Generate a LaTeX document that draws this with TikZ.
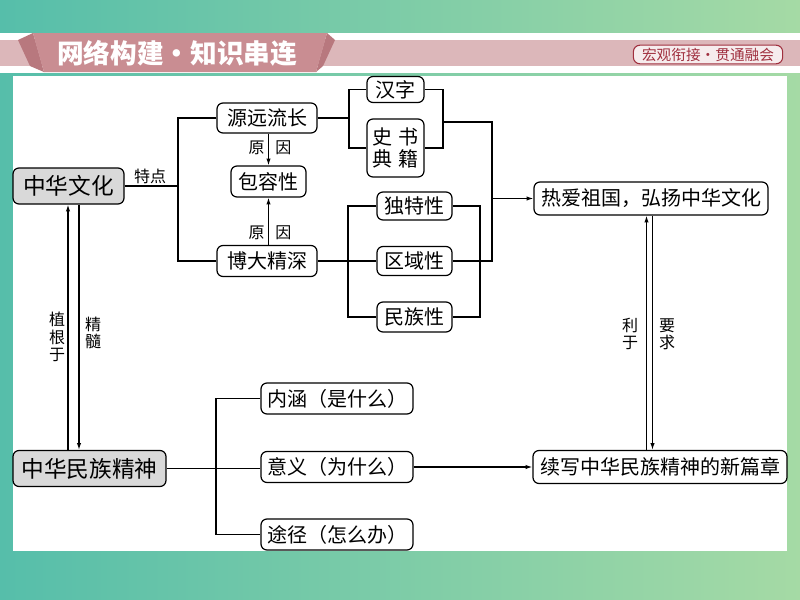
\documentclass[tikz,border=0pt]{standalone}
\usepackage{fontspec}
\setmainfont{Noto Sans CJK SC}
\usetikzlibrary{arrows.meta,calc}
\definecolor{gl}{RGB}{86,190,170}
\definecolor{gr}{RGB}{165,218,165}
\definecolor{stripe}{RGB}{220,183,186}
\definecolor{rose}{RGB}{201,141,146}
\definecolor{rosed}{RGB}{184,120,126}
\definecolor{badgetxt}{RGB}{160,48,63}
\definecolor{badgefill}{RGB}{246,236,237}
\definecolor{graybox}{RGB}{217,217,217}
\tikzset{
  box/.style={draw, rounded corners=4.5pt, line width=0.9pt, inner sep=0pt, align=center, font=\fontsize{15}{17}\selectfont},
  bigbox/.style={box, fill=graybox, font=\fontsize{17}{19}\selectfont},
  lbl/.style={inner sep=0pt, align=center, font=\fontsize{12}{13}\selectfont},
  con/.style={line width=0.9pt},
  arr/.style={con, -{Latex[length=5pt,width=3.2pt]}}
}
\begin{document}
\begin{tikzpicture}[x=0.75pt,y=-0.75pt]
\useasboundingbox (0,0) rectangle (800,600);
% background
\shade[left color=gl, right color=gr] (0,0) rectangle (800,600);
\fill[white] (0,33) rectangle (800,73);
\fill[stripe] (0,40) rectangle (800,66);
\fill[white] (13,76) rectangle (787,551);
% banner
\fill[rosed] (18,40) -- (33,33) -- (44,72) -- (30,66) -- cycle;
\fill[rosed] (327,33) -- (335,40) -- (323,66) -- (316,72) -- cycle;
\fill[rose] (33,33) -- (327,33) -- (316,72) -- (44,72) -- cycle;
\node[text=white, font=\fontsize{20}{20}\selectfont\bfseries, inner sep=0pt] (ban) at (177,53) {网络构建·知识串连};
\node[draw=badgetxt, fill=badgefill, rounded corners=5pt, line width=0.8pt, minimum width=112pt, minimum height=14pt, inner sep=0pt, text=badgetxt, font=\fontsize{11}{11}\selectfont] (badge) at (708,54.5) {宏观衔接·贯通融会};
% nodes
\node[bigbox, minimum width=83.25pt, minimum height=27pt] (zhwh) at (68.5,186) {中华文化};
\node[box, minimum width=75pt, minimum height=22.5pt] (yylc) at (267,118) {源远流长};
\node[box, minimum width=56.25pt, minimum height=23.25pt] (brx) at (268.5,181.5) {包容性};
\node[box, minimum width=75pt, minimum height=23.25pt] (bdjs) at (267,261) {博大精深};
\node[box, minimum width=42.75pt, minimum height=19.5pt] (hz) at (395.5,89.5) {汉字};
\node[box, minimum width=42.75pt, minimum height=43.5pt] (ssdj) at (395.5,148) {史\hspace{4pt}书\\典\hspace{4pt}籍};
\node[box, minimum width=56.25pt, minimum height=21pt] (dtx) at (414.5,206) {独特性};
\node[box, minimum width=56.25pt, minimum height=21.75pt] (qyx) at (414.5,261) {区域性};
\node[box, minimum width=56.25pt, minimum height=22.5pt] (mzx) at (414.5,317) {民族性};
\node[box, minimum width=175.5pt, minimum height=24.75pt] (rags) at (651,198.5) {热爱祖国，弘扬中华文化};
\node[box, minimum width=190.5pt, minimum height=24.75pt] (xx) at (660,467) {续写中华民族精神的新篇章};
\node[bigbox, minimum width=114.75pt, minimum height=27pt] (zhmz) at (89.5,468.5) {中华民族精神};
\node[box, minimum width=114pt, minimum height=23.25pt] (nh) at (337,398.5) {内涵（是什么）};
\node[box, minimum width=114pt, minimum height=23.25pt] (yy) at (337,467) {意义（为什么）};
\node[box, minimum width=114pt, minimum height=23.25pt] (tj) at (337,534.5) {途径（怎么办）};
% labels
\node[lbl] (td) at (150,176) {特点};
\node[lbl] (yy1) at (270,148) {原\hspace{8pt}因};
\node[lbl] (yy2) at (270,233) {原\hspace{8pt}因};
\node[lbl] (zgy) at (57,337) {植\\根\\于};
\node[lbl] (js) at (93,333) {精\\髓};
\node[lbl] (ly) at (630,334) {利\\于};
\node[lbl] (yq) at (667,334) {要\\求};
% helper coordinates
\coordinate (c1) at (178,0);
\coordinate (c2) at (349,0);
\coordinate (c3) at (443,0);
\coordinate (j1) at (443,122);
\coordinate (c4) at (492,0);
\coordinate (c5) at (348,0);
\coordinate (c6) at (480,0);
\coordinate (c7) at (216,0);
\coordinate (a1) at (68,0);
\coordinate (a2) at (79,0);
\coordinate (b1) at (646.5,0);
\coordinate (b2) at (652.5,0);
% connectors
\draw[con] (zhwh.east) -- (zhwh.east -| c1);
\draw[con] (yylc.west) -- (yylc.west -| c1) -- (bdjs.west -| c1) -- (bdjs.west);
\draw[arr] (brx.north |- yylc.south) -- (brx.north);
\draw[arr] (brx.south |- bdjs.north) -- (brx.south);
\draw[con] (yylc.east) -- (yylc.east -| c2);
\draw[con] (hz.west) -- (hz.west -| c2) -- (ssdj.west -| c2) -- (ssdj.west);
\draw[con] (hz.east) -- (hz.east -| c3) -- (ssdj.east -| c3) -- (ssdj.east);
\draw[con] (j1) -- (j1 -| c4) -- (c4 |- qyx.east) -- (qyx.east);
\draw[arr] (c4 |- rags.west) -- (rags.west);
\draw[con] (bdjs.east) -- (bdjs.east -| qyx.west);
\draw[con] (dtx.west) -- (dtx.west -| c5) -- (mzx.west -| c5) -- (mzx.west);
\draw[con] (dtx.east) -- (dtx.east -| c6) -- (mzx.east -| c6) -- (mzx.east);
\draw[arr] (a1 |- zhmz.north) -- (a1 |- zhwh.south);
\draw[arr] (a2 |- zhwh.south) -- (a2 |- zhmz.north);
\draw[arr] (b1 |- xx.north) -- (b1 |- rags.south);
\draw[arr] (b2 |- rags.south) -- (b2 |- xx.north);
\draw[con] (zhmz.east) -- (zhmz.east -| yy.west);
\draw[con] (nh.west) -- (nh.west -| c7) -- (tj.west -| c7) -- (tj.west);
\draw[arr] (yy.east) -- (yy.east -| xx.west);
\end{tikzpicture}
\end{document}
